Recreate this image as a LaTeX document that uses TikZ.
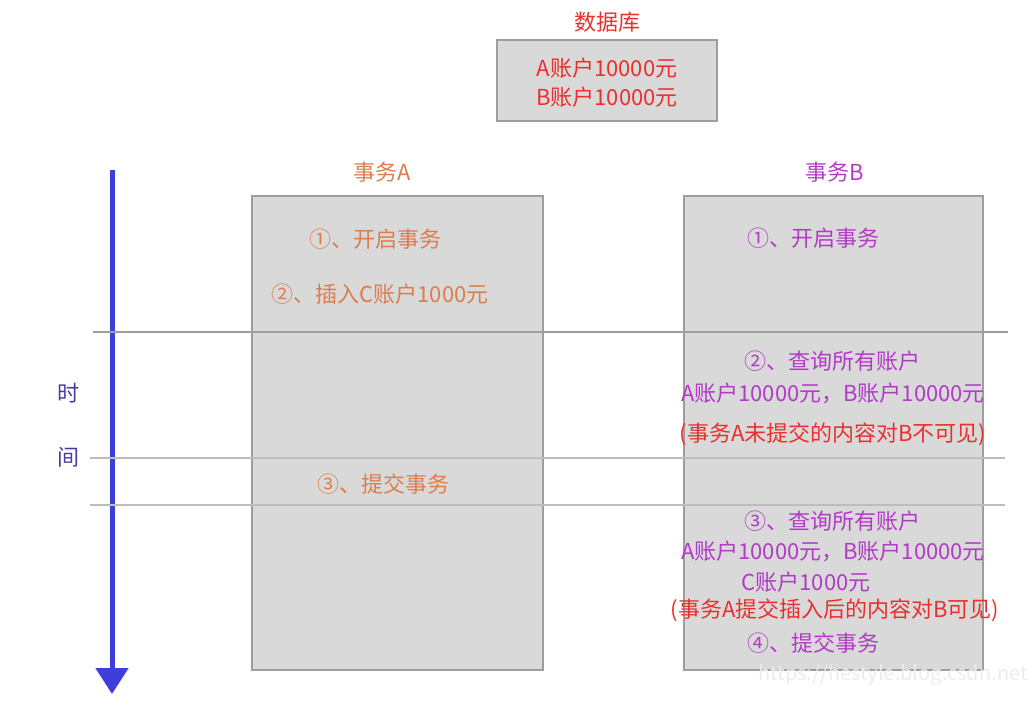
\documentclass[tikz,border=0pt]{standalone}
\usepackage{fontspec}
\setmainfont{Noto Sans CJK SC}
\usetikzlibrary{arrows.meta}
\definecolor{boxgray}{HTML}{D9D9D9}
\definecolor{edgegray}{HTML}{9E9E9E}
\definecolor{linegray}{HTML}{BDBDBD}
\definecolor{txorange}{HTML}{DE7D4C}
\definecolor{txpurple}{HTML}{B23AC6}
\definecolor{txred}{HTML}{E8302E}
\definecolor{timeblue}{HTML}{3E3EDA}
\definecolor{timetext}{HTML}{4A3C9E}
\begin{document}
\begin{tikzpicture}[
			x=1pt, y=-1pt,
			txbox/.style={draw=edgegray, fill=boxgray, line width=1.2pt, inner sep=0pt},
			label txt/.style={font=\fontsize{22}{26}\selectfont, inner sep=0pt},
			orange txt/.style={label txt, text=txorange},
			purple txt/.style={label txt, text=txpurple},
			red txt/.style={label txt, text=txred},
			cut line/.style={linegray, line width=2pt}
		]
		\useasboundingbox (0,0) rectangle (1028,708);
		% database
		\node[red txt] (dbtitle) at (607,22) {数据库};
		\node[txbox, minimum width=220pt, minimum height=81pt] (db) at (607,80.5) {};
		\node[red txt] (dba) at (607,68) {A账户10000元};
		\node[red txt] (dbb) at (607,97) {B账户10000元};
		% transaction boxes
		\node[orange txt] (titlea) at (382,172) {事务A};
		\node[purple txt] (titleb) at (835,172) {事务B};
		\node[txbox, minimum width=291pt, minimum height=474pt] (boxa) at (397.5,433) {};
		\node[txbox, minimum width=299pt, minimum height=474pt] (boxb) at (833.5,433) {};
		% time axis
		\coordinate (tstart) at (112,170);
		\coordinate (tend) at (112,694);
		\draw[timeblue, line width=5pt, -{Triangle[width=32pt,length=26pt]}] (tstart) -- (tend);
		\node[label txt, text=timetext] (shi) at (68,393) {时};
		\node[label txt, text=timetext] (jian) at (68,457) {间};
		% separators
		\draw[edgegray, line width=1.2pt] (93,332) -- (1008,332);
		\draw[cut line] (90,458) -- (1005,458);
		\draw[cut line] (90,505) -- (1005,505);
		% transaction A
		\node[orange txt] (a1) at (375,239) {①、开启事务};
		\node[orange txt] (a2) at (380,294) {②、插入C账户1000元};
		\node[orange txt] (a3) at (383,484) {③、提交事务};
		% transaction B
		\node[purple txt] (b1) at (813,238) {①、开启事务};
		\node[purple txt] (b2) at (832,361) {②、查询所有账户};
		\node[purple txt] (b2s) at (833,393) {A账户10000元，B账户10000元};
		\node[red txt] (b2n) at (833,434) {(事务A未提交的内容对B不可见)};
		\node[purple txt] (b3) at (832,521) {③、查询所有账户};
		\node[purple txt] (b3s) at (833,551) {A账户10000元，B账户10000元};
		\node[purple txt] (b3c) at (806,582) {C账户1000元};
		\node[red txt] (b3n) at (835,610) {(事务A提交插入后的内容对B可见)};
		\node[purple txt] (b4) at (813,643) {④、提交事务};
		% watermark
		\node[label txt, text=white!85!gray, font=\fontsize{20}{24}\selectfont] (mark) at (893,675) {https://hestyle.blog.csdn.net};
	\end{tikzpicture}
\end{document}
